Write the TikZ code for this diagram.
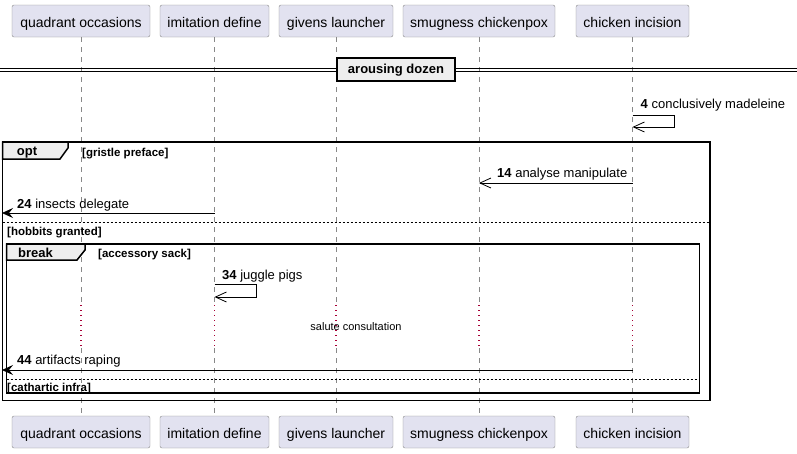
\documentclass[tikz,border=0pt]{standalone}
\usepackage{fontspec}
\setmainfont{Liberation Sans}
\usetikzlibrary{positioning,calc,arrows.meta}

\definecolor{partfill}{HTML}{E2E2F0}
\definecolor{partline}{HTML}{888888}
\definecolor{tabfill}{HTML}{EEEEEE}
\definecolor{delayred}{HTML}{A80036}

\begin{document}
\begin{tikzpicture}[
    x=1pt, y=-1pt,
    part/.style={draw=partline, fill=partfill, rounded corners=2pt, minimum height=32pt, inner sep=0pt, text height=15pt, text depth=3pt, font=\fontsize{14}{16}\selectfont},
    life/.style={draw=partline, line width=0.6pt, dash pattern=on 5pt off 5pt},
    delay/.style={draw=delayred, line width=1.3pt, dash pattern=on 1.2pt off 3.8pt},
    msg/.style={line width=0.8pt, -{Straight Barb[length=11pt, width=10pt]}},
    lost/.style={line width=0.9pt, -{Stealth[length=11pt, width=10pt, inset=4pt]}},
    lab/.style={anchor=base west, inner sep=0pt, font=\fontsize{13}{15}\selectfont},
    cond/.style={anchor=base west, inner sep=0pt, font=\bfseries\fontsize{11.5}{13}\selectfont},
    frm/.style={line width=1.5pt},
    tab/.style={line width=1.5pt, fill=tabfill},
    tablab/.style={anchor=base, inner sep=0pt, font=\bfseries\fontsize{13}{15}\selectfont},
    sep/.style={line width=0.8pt, dash pattern=on 2pt off 2pt},
    divline/.style={line width=1pt},
    divbox/.style={draw, line width=1.5pt, fill=tabfill, minimum width=118pt, minimum height=23pt, inner sep=0pt, text height=9.5pt, text depth=2.5pt, font=\bfseries\fontsize{13}{15}\selectfont}
]
\useasboundingbox (0,0) rectangle (797,453);

% participants and lifelines
\foreach \n/\x/\w/\t in {qo/81/138/quadrant occasions, id/214.5/109/imitation define, gl/336/114/givens launcher, sc/479/152/smugness chickenpox, ci/632.5/113/chicken incision} {
    \node[part, minimum width=\w] (\n-top) at (\x,21) {\t};
    \node[part, minimum width=\w] (\n-bot) at (\x,432) {\t};
    \coordinate (\n-d1) at (\x,305);
    \coordinate (\n-d2) at (\x,348);
    \draw[life] (\n-top) -- (\n-d1);
    \draw[delay] (\n-d1) -- (\n-d2);
    \draw[life] (\n-d2) -- (\n-bot);
}

% divider
\coordinate (divL1) at (0,68);
\coordinate (divR1) at (797,68);
\coordinate (divL2) at (0,71.5);
\coordinate (divR2) at (797,71.5);
\draw[divline] (divL1) -- (divR1);
\draw[divline] (divL2) -- (divR2);
\node[divbox] (div) at (396,69.5) {arousing dozen};

% 4 (self)
\coordinate (m4a) at (ci-top |- 0,115);
\coordinate (m4b) at (ci-top |- 0,127);
\draw[msg] (m4a) -- ++(42,0) |- (m4b);
\node[lab] (t4) at (640.5,108.7) {\textbf{4} conclusively madeleine};

% opt frame
\draw[frm] (2.5,142) rectangle (710,400.5);
\draw[tab] (2.5,142) -- (68,142) -- (68,148) -- (60,159) -- (2.5,159) -- cycle;
\node[tablab] (optlab) at (27,155.5) {opt};
\node[cond] (c1) at (82,156) {[gristle preface]};

% 14
\coordinate (m14a) at (ci-top |- 0,183);
\coordinate (m14b) at (sc-top |- 0,183);
\draw[msg] (m14a) -- (m14b);
\node[lab] (t14) at (497,177.7) {\textbf{14} analyse manipulate};

% 24 (to frame edge)
\coordinate (m24a) at (id-top |- 0,213);
\coordinate (edge24) at (2,213);
\draw[lost] (m24a) -- (edge24);
\node[lab] (t24) at (17,208.7) {\textbf{24} insects delegate};

% else
\coordinate (s1L) at (2.5,222);
\coordinate (s1R) at (710,222);
\draw[sep] (s1L) -- (s1R);
\node[cond] (c2) at (7,235) {[hobbits granted]};

% break frame
\draw[frm] (6.5,244) rectangle (699.5,393);
\draw[tab] (6.5,244) -- (85,244) -- (85,250) -- (77,260) -- (6.5,260) -- cycle;
\node[tablab] (brklab) at (35.5,257) {break};
\node[cond] (c3) at (98,257.5) {[accessory sack]};

% 34 (self)
\coordinate (m34a) at (id-top |- 0,284.5);
\coordinate (m34b) at (id-top |- 0,297);
\draw[msg] (m34a) -- ++(42,0) |- (m34b);
\node[lab] (t34) at (222,279.5) {\textbf{34} juggle pigs};

% delay
\node[inner sep=0pt, font=\fontsize{11}{13}\selectfont] (dl) at (356,327) {salute consultation};

% 44 (to frame edge)
\coordinate (m44a) at (ci-top |- 0,370);
\coordinate (edge44) at (2,370);
\draw[lost] (m44a) -- (edge44);
\node[lab] (t44) at (17,364.7) {\textbf{44} artifacts raping};

% else
\coordinate (s2L) at (6.5,379);
\coordinate (s2R) at (699.5,379);
\draw[sep] (s2L) -- (s2R);
\node[cond] (c4) at (7,391) {[cathartic infra]};

\end{tikzpicture}
\end{document}
